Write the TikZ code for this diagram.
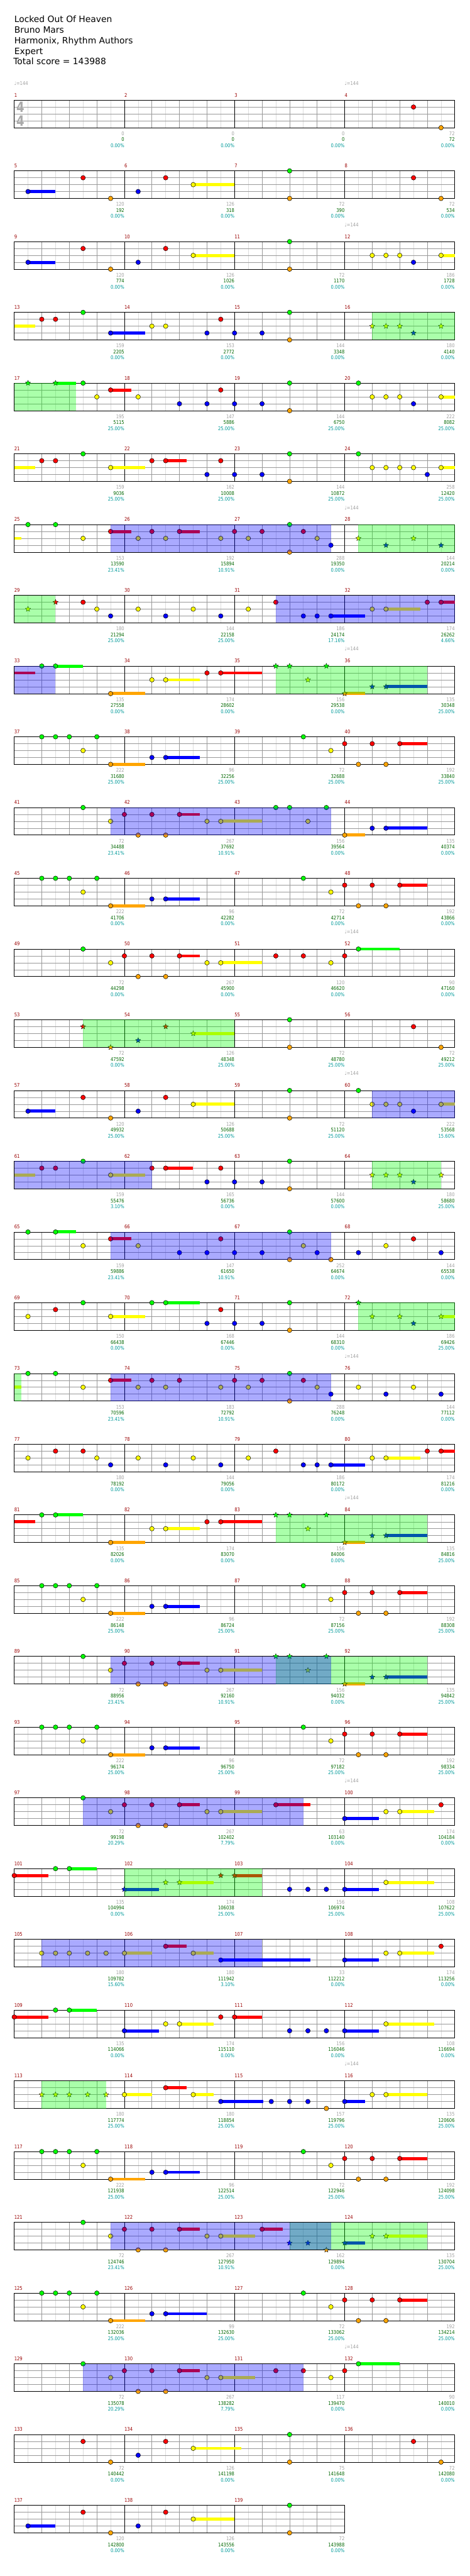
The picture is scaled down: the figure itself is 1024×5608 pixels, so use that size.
\documentclass[tikz,border=0pt]{standalone}
\usepackage{fontspec}
\setmainfont{DejaVu Sans}
\newfontfamily\chartfont{DejaVu Sans}[FakeStretch=0.85]
\usepackage{graphicx}
\usepackage{tikz}
\usetikzlibrary{shapes.geometric}
\definecolor{lane0}{HTML}{00FF00}
\definecolor{lane1}{HTML}{FF0000}
\definecolor{lane2}{HTML}{FFFF00}
\definecolor{lane3}{HTML}{0000FF}
\definecolor{lane4}{HTML}{FFA500}
\definecolor{barc}{HTML}{990000}
\definecolor{ptsc}{HTML}{A0A0A0}
\definecolor{totc}{HTML}{006600}
\definecolor{pctc}{HTML}{009999}
\definecolor{gridc}{HTML}{999999}
\definecolor{subc}{HTML}{DDDDDD}
\definecolor{sigc}{HTML}{AAAAAA}
\newcommand{\bpm}{\char"2669=144}
\tikzset{
  gemc/.style={circle, draw=black, line width=0.7pt, fill=lane#1, minimum size=10pt, inner sep=0pt},
  gems/.style={star, star points=5, star point ratio=2.2, draw=black, line width=0.5pt, fill=lane#1, minimum size=12pt, inner sep=0pt},
  gemn/.style={inner sep=0pt, minimum size=0pt},
  sustain/.style={line width=6.7pt},
  charttext/.style={font=\chartfont\fontsize{11}{11}\selectfont, inner sep=0pt},
  barno/.style={charttext, text=barc, anchor=base west},
  ptsno/.style={charttext, anchor=base east},
  headline/.style={font=\fontsize{19}{23}\selectfont, anchor=base west, inner sep=0pt},
  timesig/.style={font=\bfseries\fontsize{31}{31}\selectfont, text=sigc, inner sep=0pt},
  spzone/.style={fill=lane0, fill opacity=0.333},
  solozone/.style={fill=lane3, fill opacity=0.333}
}

\begin{document}
\begin{tikzpicture}[x=1pt, y=-1pt]
  \useasboundingbox (0,0) rectangle (1024,5608);
  \foreach \w/\y [count=\i] in {Locked Out Of Heaven/49, Bruno Mars/72, {Harmonix, Rhythm Authors}/95, Expert/118}
     \node[headline] (head-\i) at (31,\y) {\w};
  \node[headline] (score) at (29,141) {Total score = 143988};
  \foreach \g/\t/\p [count=\m from 0] in {
     0/0/0.00, 0/0/0.00, 0/0/0.00, 72/72/0.00,
     120/192/0.00, 126/318/0.00, 72/390/0.00, 72/534/0.00,
     120/774/0.00, 126/1026/0.00, 72/1170/0.00, 186/1728/0.00,
     159/2205/0.00, 153/2772/0.00, 144/3348/0.00, 180/4140/0.00,
     195/5115/25.00, 147/5886/25.00, 144/6750/25.00, 222/8082/25.00,
     159/9036/25.00, 162/10008/25.00, 144/10872/25.00, 258/12420/25.00,
     153/13590/23.41, 192/15894/10.91, 288/19350/0.00, 144/20214/0.00,
     180/21294/25.00, 144/22158/25.00, 186/24174/17.16, 174/26262/4.66,
     135/27558/0.00, 174/28602/0.00, 156/29538/0.00, 135/30348/25.00,
     222/31680/25.00, 96/32256/25.00, 72/32688/25.00, 192/33840/25.00,
     72/34488/23.41, 267/37692/10.91, 156/39564/0.00, 135/40374/0.00,
     222/41706/0.00, 96/42282/0.00, 72/42714/0.00, 192/43866/0.00,
     72/44298/0.00, 267/45900/0.00, 120/46620/0.00, 90/47160/0.00,
     72/47592/0.00, 126/48348/25.00, 72/48780/25.00, 72/49212/25.00,
     120/49932/25.00, 126/50688/25.00, 72/51120/25.00, 222/53568/15.60,
     159/55476/3.10, 165/56736/0.00, 144/57600/0.00, 180/58680/25.00,
     159/59886/23.41, 147/61650/10.91, 252/64674/0.00, 144/65538/0.00,
     150/66438/0.00, 168/67446/0.00, 144/68310/0.00, 186/69426/25.00,
     153/70596/23.41, 183/72792/10.91, 288/76248/0.00, 144/77112/0.00,
     180/78192/0.00, 144/79056/0.00, 186/80172/0.00, 174/81216/0.00,
     135/82026/0.00, 174/83070/0.00, 156/84006/0.00, 135/84816/25.00,
     222/86148/25.00, 96/86724/25.00, 72/87156/25.00, 192/88308/25.00,
     72/88956/23.41, 267/92160/10.91, 156/94032/0.00, 135/94842/25.00,
     222/96174/25.00, 96/96750/25.00, 72/97182/25.00, 192/98334/25.00,
     72/99198/20.29, 267/102402/7.79, 63/103140/0.00, 174/104184/0.00,
     135/104994/0.00, 174/106038/25.00, 156/106974/25.00, 108/107622/25.00,
     180/109782/15.60, 180/111942/3.10, 33/112212/0.00, 174/113256/0.00,
     135/114066/0.00, 174/115110/0.00, 156/116046/0.00, 108/116694/0.00,
     180/117774/25.00, 180/118854/25.00, 157/119796/25.00, 135/120606/25.00,
     222/121938/25.00, 96/122514/25.00, 72/122946/25.00, 192/124098/25.00,
     72/124746/23.41, 267/127950/10.91, 162/129894/0.00, 135/130704/25.00,
     222/132036/25.00, 99/132630/25.00, 72/133062/25.00, 192/134214/25.00,
     72/135078/20.29, 267/138282/7.79, 117/139470/0.00, 90/140010/0.00,
     72/140442/0.00, 126/141198/0.00, 75/141648/0.00, 72/142080/0.00,
     120/142800/0.00, 126/143556/0.00, 72/143988/0.00}{
     \pgfmathtruncatemacro\rw{\m/4}
     \pgfmathtruncatemacro\cl{mod(\m,4)}
     \pgfmathtruncatemacro\mno{\m+1}
     \begin{scope}[shift={(31+240*\cl,218+154*\rw)}]
       \foreach \x in {30,90,150,210} \draw[subc, line width=0.8pt] (\x,0) -- (\x,60);
       \foreach \y in {15,30,45} \draw[gridc, line width=0.8pt] (0,\y) -- (240,\y);
       \foreach \x in {60,120,180} \draw[gridc, line width=0.8pt] (\x,0) -- (\x,60);
       \draw[black, line width=1pt] (0,0) rectangle (240,60);
       \node[barno] (bar-\mno) at (0,-7) {\mno};
       \node[ptsno, text=ptsc] (pts-\mno) at (240,77) {\g};
       \node[ptsno, text=totc] (tot-\mno) at (240,90) {\t};
       \node[ptsno, text=pctc] (pct-\mno) at (240,103) {\p\%};
     \end{scope}}
  \node[timesig] (sig-top) at (44.5,233.5) {\scalebox{0.8}[1]{4}};
  \node[timesig] (sig-bot) at (44.5,263.5) {\scalebox{0.8}[1]{4}};
  \foreach \m in {1,4,12,28,36,52,60,76,84,100,116,132}{
     \pgfmathtruncatemacro\rw{(\m-1)/4}
     \pgfmathtruncatemacro\cl{mod(\m-1,4)}
     \node[charttext, text=ptsc, anchor=base west] (bpm-\m) at (31+240*\cl,185+154*\rw) {\bpm};}
  \foreach \r/\notes in {
     1/{29/1/c/0, 31/4/c/0},
     2/{1/3/c/3, 5/1/c/0, 7/4/c/0, 9/3/c/0, 11/1/c/0, 13/2/c/16, 20/0/c/0, 20/4/c/0, 29/1/c/0, 31/4/c/0},
     3/{1/3/c/3, 5/1/c/0, 7/4/c/0, 9/3/c/0, 11/1/c/0, 13/2/c/16, 20/0/c/0, 20/4/c/0, 26/2/c/0, 27/2/c/0, 28/2/c/0, 29/3/c/0, 31/2/c/32},
     4/{0/2/n/1.5, 2/1/c/0, 3/1/c/0, 5/0/c/0, 7/3/c/9.5, 10/2/c/0, 11/2/c/0, 14/3/c/0, 15/1/c/0, 16/3/c/0, 18/3/c/0, 20/0/c/0, 20/4/c/0, 26/2/s/0, 27/2/s/0, 28/2/s/0, 29/3/s/0, 31/2/s/0},
     5/{1/0/s/0, 3/0/s/4.5, 5/0/c/0, 6/2/c/0, 7/1/c/8.5, 9/2/c/0, 12/3/c/0, 14/3/c/0, 15/1/c/0, 16/3/c/0, 18/3/c/0, 20/0/c/0, 20/4/c/0, 25/0/c/0, 26/2/c/0, 27/2/c/0, 28/2/c/0, 29/3/c/0, 31/2/c/32},
     6/{0/2/n/1.5, 2/1/c/0, 3/1/c/0, 5/0/c/0, 7/2/c/9.5, 10/1/c/0, 11/1/c/12.5, 14/3/c/0, 15/1/c/0, 16/3/c/0, 18/3/c/0, 20/0/c/0, 20/4/c/0, 25/0/c/0, 26/2/c/0, 27/2/c/0, 28/2/c/0, 29/2/c/0, 30/3/c/0, 31/2/c/32},
     7/{0/2/n/0.5, 1/0/c/0, 3/0/c/0, 5/2/c/0, 7/1/c/8.5, 9/2/c/0, 10/1/c/0, 11/2/c/0, 12/1/c/13.5, 15/2/c/0, 16/1/c/0, 17/2/c/0, 18/1/c/0, 20/0/c/0, 20/4/c/0, 21/1/c/0, 22/2/c/0, 23/3/c/0, 25/2/s/0, 27/3/s/0, 29/2/s/0, 31/3/s/0},
     8/{1/2/s/0, 3/1/s/0, 5/1/c/0, 6/2/c/0, 7/3/c/0, 9/2/c/0, 11/3/c/0, 13/2/c/0, 15/3/c/0, 17/2/c/0, 19/1/c/0, 21/3/c/0, 22/3/c/0, 23/3/c/25.5, 26/2/c/0, 27/2/c/29.5, 30/1/c/0, 31/1/c/32},
     9/{0/1/n/1.5, 2/0/c/0, 3/0/c/5, 7/4/c/9.5, 10/2/c/0, 11/2/c/13.5, 14/1/c/0, 15/1/c/18, 19/0/s/0, 20/0/s/0, 21.33/2/s/0, 22.67/0/s/0, 24/4/s/25.5, 26/3/s/0, 27/3/s/30},
     10/{2/0/c/0, 3/0/c/0, 4/0/c/0, 5/2/c/0, 6/0/c/0, 7/4/c/9.5, 10/3/c/0, 11/3/c/13.5, 21/0/c/0, 23/2/c/0, 24/1/c/0, 25/4/c/0, 26/1/c/0, 27/4/c/0, 28/1/c/30},
     11/{5/0/c/0, 7/2/c/0, 8/1/c/0, 9/4/c/0, 10/1/c/0, 11/4/c/0, 12/1/c/13.5, 14/2/c/0, 15/2/c/18, 19/0/c/0, 20/0/c/0, 21.33/2/c/0, 22.67/0/c/0, 24/4/c/25.5, 26/3/c/0, 27/3/c/30},
     12/{2/0/c/0, 3/0/c/0, 4/0/c/0, 5/2/c/0, 6/0/c/0, 7/4/c/9.5, 10/3/c/0, 11/3/c/13.5, 21/0/c/0, 23/2/c/0, 24/1/c/0, 25/4/c/0, 26/1/c/0, 27/4/c/0, 28/1/c/30},
     13/{5/0/c/0, 7/2/c/0, 8/1/c/0, 9/4/c/0, 10/1/c/0, 11/4/c/0, 12/1/c/13.5, 14/2/c/0, 15/2/c/18, 19/1/c/0, 21/1/c/0, 23/2/c/0, 24/1/c/0, 25/0/c/28},
     14/{5/1/s/0, 7/4/s/0, 9/3/s/0, 11/1/s/0, 13/2/s/16, 20/0/c/0, 20/4/c/0, 29/1/c/0, 31/4/c/0},
     15/{1/3/c/3, 5/1/c/0, 7/4/c/0, 9/3/c/0, 11/1/c/0, 13/2/c/16, 20/0/c/0, 20/4/c/0, 25/0/c/0, 26/2/c/0, 27/2/c/0, 28/2/c/0, 29/3/c/0, 31/2/c/32},
     16/{0/2/n/1.5, 2/1/c/0, 3/1/c/0, 5/0/c/0, 7/2/c/9.5, 10/1/c/0, 11/1/c/13, 14/3/c/0, 15/1/c/0, 16/3/c/0, 18/3/c/0, 20/0/c/0, 20/4/c/0, 26/2/s/0, 27/2/s/0, 28/2/s/0, 29/3/s/0, 31/2/s/0},
     17/{1/0/c/0, 3/0/c/4.5, 5/2/c/0, 7/1/c/8.5, 9/2/c/0, 12/3/c/0, 14/3/c/0, 15/1/c/0, 16/3/c/0, 18/3/c/0, 20/0/c/0, 20/4/c/0, 21/2/c/0, 22/3/c/0, 23/4/c/0, 25/3/c/0, 27/2/c/0, 29/1/c/0, 31/3/c/0},
     18/{1/2/c/0, 3/1/c/0, 5/0/c/0, 7/2/c/9.5, 10/0/c/0, 11/0/c/13.5, 14/3/c/0, 15/1/c/0, 16/3/c/0, 18/3/c/0, 20/0/c/0, 20/4/c/0, 25/0/s/0, 26/2/s/0, 28/2/s/0, 29/3/s/0, 31/2/s/32},
     19/{0/2/n/0.5, 1/0/c/0, 3/0/c/0, 5/2/c/0, 7/1/c/8.5, 9/2/c/0, 10/1/c/0, 11/2/c/0, 12/1/c/0, 15/2/c/0, 16/1/c/0, 17/2/c/0, 18/1/c/0, 20/0/c/0, 20/4/c/0, 21/1/c/0, 22/2/c/0, 23/3/c/0, 25/2/c/0, 27/3/c/0, 29/2/c/0, 31/3/c/0},
     20/{1/2/c/0, 3/1/c/0, 5/1/c/0, 6/2/c/0, 7/3/c/0, 9/2/c/0, 11/3/c/0, 13/2/c/0, 15/3/c/0, 17/2/c/0, 19/1/c/0, 21/3/c/0, 22/3/c/0, 23/3/c/25.5, 26/2/c/0, 27/2/c/29.5, 30/1/c/0, 31/1/c/32},
     21/{0/1/n/1.5, 2/0/c/0, 3/0/c/5, 7/4/c/9.5, 10/2/c/0, 11/2/c/13.5, 14/1/c/0, 15/1/c/18, 19/0/s/0, 20/0/s/0, 21.33/2/s/0, 22.67/0/s/0, 24/4/s/25.5, 26/3/s/0, 27/3/s/30},
     22/{2/0/c/0, 3/0/c/0, 4/0/c/0, 5/2/c/0, 6/0/c/0, 7/4/c/9.5, 10/3/c/0, 11/3/c/13.5, 21/0/c/0, 23/2/c/0, 24/1/c/0, 25/4/c/0, 26/1/c/0, 27/4/c/0, 28/1/c/30},
     23/{5/0/c/0, 7/2/c/0, 8/1/c/0, 9/4/c/0, 10/1/c/0, 11/4/c/0, 12/1/c/13.5, 14/2/c/0, 15/2/c/18, 19/0/s/0, 20/0/s/0, 21.33/2/s/0, 22.67/0/s/0, 24/4/s/25.5, 26/3/s/0, 27/3/s/30},
     24/{2/0/c/0, 3/0/c/0, 4/0/c/0, 5/2/c/0, 6/0/c/0, 7/4/c/9.5, 10/3/c/0, 11/3/c/13.5, 21/0/c/0, 23/2/c/0, 24/1/c/0, 25/4/c/0, 26/1/c/0, 27/4/c/0, 28/1/c/30},
     25/{5/0/c/0, 7/2/c/0, 8/1/c/0, 9/4/c/0, 10/1/c/0, 11/4/c/0, 12/1/c/13.5, 14/2/c/0, 15/2/c/18, 19/1/c/21.5, 24/3/c/26.5, 27/2/c/0, 28/2/c/30.5, 31/1/c/0},
     26/{0/1/c/2.5, 3/0/c/0, 4/0/c/6, 8/3/s/10.5, 11/2/s/0, 12/2/s/14.5, 15/1/s/0, 16/1/s/18, 20/3/c/0, 21.33/3/c/0, 22.67/3/c/0, 24/3/c/26.5, 27/2/c/30.5},
     27/{2/2/c/0, 3/2/c/0, 4/2/c/0, 5.33/2/c/0, 6.67/2/c/0, 8/2/c/10, 11/1/c/12.5, 13/2/c/14.5, 15/3/c/21.5, 24/3/c/26.5, 27/2/c/0, 28/2/c/30.5, 31/1/c/0},
     28/{0/1/c/2.5, 3/0/c/0, 4/0/c/6, 8/3/c/10.5, 11/2/c/0, 12/2/c/14.5, 15/1/c/0, 16/1/c/18, 20/3/c/0, 21.33/3/c/0, 22.67/3/c/0, 24/3/c/26.5, 27/2/c/30.5},
     29/{2/2/s/0, 3/2/s/0, 4/2/s/0, 5.33/2/s/0, 6.67/2/s/0, 8/2/c/10, 11/1/c/12.5, 13/2/c/14.5, 15/3/c/18.1, 18.67/3/c/0, 20/3/c/0, 21.33/3/c/0, 22.67/4/c/0, 24/3/c/25.5, 26/2/c/0, 27/2/c/30},
     30/{2/0/c/0, 3/0/c/0, 4/0/c/0, 5/2/c/0, 6/0/c/0, 7/4/c/9.5, 10/3/c/0, 11/3/c/13.5, 21/0/c/0, 23/2/c/0, 24/1/c/0, 25/4/c/0, 26/1/c/0, 27/4/c/0, 28/1/c/30},
     31/{5/0/c/0, 7/2/c/0, 8/1/c/0, 9/4/c/0, 10/1/c/0, 11/4/c/0, 12/1/c/13.5, 14/2/c/0, 15/2/c/17.5, 18/1/c/19.5, 20/3/s/0, 21.33/3/s/0, 22.67/4/s/0, 24/3/s/25.5, 26/2/s/0, 27/2/s/30},
     32/{2/0/c/0, 3/0/c/0, 4/0/c/0, 5/2/c/0, 6/0/c/0, 7/4/c/9.5, 10/3/c/0, 11/3/c/14, 21/0/c/0, 23/2/c/0, 24/1/c/0, 25/4/c/0, 26/1/c/0, 27/4/c/0, 28/1/c/30},
     33/{5/0/c/0, 7/2/c/0, 8/1/c/0, 9/4/c/0, 10/1/c/0, 11/4/c/0, 12/1/c/13.5, 14/2/c/0, 15/2/c/17.5, 19/1/c/0, 21/1/c/0, 23/2/c/0, 24/1/c/0, 25/0/c/28},
     34/{5/1/c/0, 7/4/c/0, 9/3/c/0, 11/1/c/0, 13/2/c/16.5, 20/0/c/0, 20/4/c/0, 29/1/c/0, 31/4/c/0},
     35/{1/3/c/3, 5/1/c/0, 7/4/c/0, 9/3/c/0, 11/1/c/0, 13/2/c/16, 20/0/c/0, 20/4/c/0}}{
     \begin{scope}[shift={(31,64+154*\r)}]
       \foreach \k/\l/\s/\e [count=\i] in \notes {
          \ifdim\e pt>0pt \draw[sustain, lane\l] (\k*30,\l*15) -- (\e*30,\l*15); \fi
          \node[gem\s=\l] (gem-\r-\i) at (\k*30,\l*15) {};}
     \end{scope}}
  \foreach \r/\a/\b in {4/26/32, 5/0/4.5, 7/25/32, 8/0/3, 9/19/30, 14/5/16, 16/26/31, 18/25/32, 19/0/0.5, 21/19/30, 23/19/30, 26/8/18, 29/2/6.67, 31/20/30}
     \fill[spzone] (31+\a*30,64+154*\r) rectangle (31+\b*30,124+154*\r);
  \foreach \r/\a/\b in {7/7/23, 8/19/32, 9/0/3, 11/7/23, 15/26/32, 16/0/10, 17/7/23, 19/7/23, 23/7/23, 25/5/21, 27/2/18, 31/7/23, 33/5/21}
     \fill[solozone] (31+\a*30,64+154*\r) rectangle (31+\b*30,124+154*\r);
\end{tikzpicture}
\end{document}
